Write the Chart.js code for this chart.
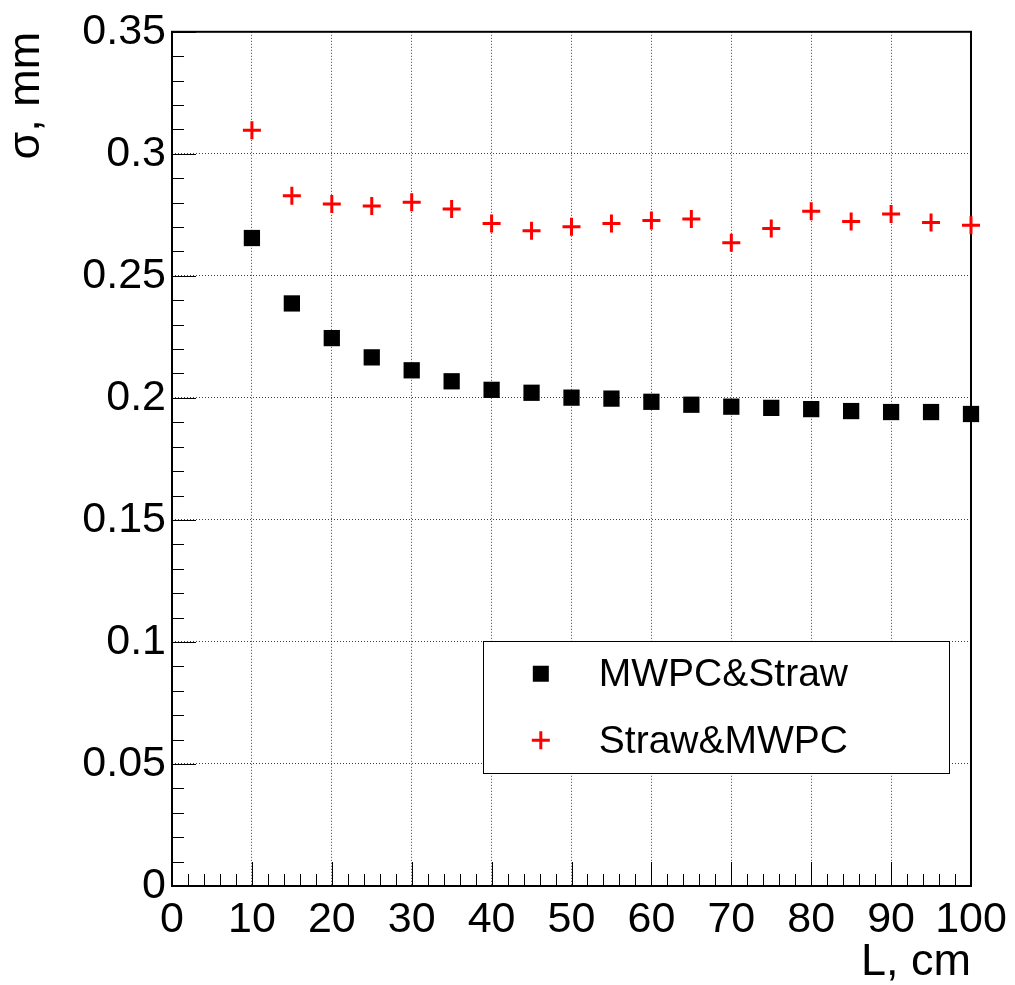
<!DOCTYPE html>
<html>
<head>
<meta charset="utf-8">
<script src="https://cdn.jsdelivr.net/npm/chart.js@4.4.1/dist/chart.umd.min.js"></script>
<style>
  html, body { margin: 0; padding: 0; background: #fff; }
  #c { display: block; }
</style>
</head>
<body>
<canvas id="c" width="1015" height="985"></canvas>
<script>
// ---- data ----
const lengthsCm = [10, 15, 20, 25, 30, 35, 40, 45, 50, 55, 60, 65, 70, 75, 80, 85, 90, 95, 100];
const mwpcStraw = [0.2655, 0.2387, 0.2245, 0.2166, 0.2113, 0.2068, 0.2033, 0.2021, 0.2001, 0.1997,
                   0.1984, 0.1972, 0.1964, 0.1959, 0.1954, 0.1946, 0.1942, 0.1942, 0.1934];
const strawMwpc = [0.3097, 0.2828, 0.2794, 0.2786, 0.2802, 0.2774, 0.2715, 0.2685, 0.2701, 0.2715,
                   0.2727, 0.2733, 0.2636, 0.2694, 0.2765, 0.2723, 0.2753, 0.2719, 0.2707];
const seriesLabels = ['MWPC&Straw', 'Straw&MWPC'];
const xTickLabels = ['0', '10', '20', '30', '40', '50', '60', '70', '80', '90', '100'];
const yTickLabels = ['0', '0.05', '0.1', '0.15', '0.2', '0.25', '0.3', '0.35'];
const xTitle = 'L, cm';
const yTitle = 'σ, mm';

const FONT = '"Liberation Sans", Arial, Helvetica, sans-serif';

function toPoints(xs, ys) { return xs.map((x, i) => ({ x: x, y: ys[i] })); }

// frame + inside tick marks (ROOT style)
const framePlugin = {
  id: 'frame',
  beforeDatasetsDraw(chart) {
    const ctx = chart.ctx, a = chart.chartArea;
    const xs = chart.scales.x, ys = chart.scales.y;
    ctx.save();
    ctx.strokeStyle = '#000';
    ctx.lineWidth = 1;
    // x ticks
    for (let v = xs.min; v <= xs.max + 1e-9; v += 2) {
      const px = Math.round(xs.getPixelForValue(v)) + 0.5;
      const major = Math.abs(v / 10 - Math.round(v / 10)) < 1e-6;
      const len = major ? 24 : 12;
      ctx.beginPath();
      ctx.moveTo(px, a.bottom);
      ctx.lineTo(px, a.bottom - len);
      ctx.stroke();
    }
    // y ticks
    for (let k = 0; k <= 35; k++) {
      const v = k * 0.01;
      const py = Math.round(ys.getPixelForValue(v)) + 0.5;
      const len = (k % 5 === 0) ? 24 : 12;
      ctx.beginPath();
      ctx.moveTo(a.left, py);
      ctx.lineTo(a.left + len, py);
      ctx.stroke();
    }
    ctx.lineWidth = 2;
    ctx.strokeRect(a.left, a.top, a.right - a.left, a.bottom - a.top);
    ctx.restore();
  }
};

// legend box inside the plot
const legendPlugin = {
  id: 'boxLegend',
  afterDatasetsDraw(chart) {
    const ctx = chart.ctx;
    const xs = chart.scales.x, ys = chart.scales.y;
    // legend placement (in axis units)
    const x0 = xs.getPixelForValue(38.9), x1 = xs.getPixelForValue(97.2);
    const y0 = ys.getPixelForValue(0.1002), y1 = ys.getPixelForValue(0.0462);
    ctx.save();
    ctx.fillStyle = '#fff';
    ctx.fillRect(x0, y0, x1 - x0, y1 - y0);
    ctx.strokeStyle = '#000';
    ctx.lineWidth = 1;
    ctx.strokeRect(Math.round(x0) + 0.5, Math.round(y0) + 0.5, Math.round(x1 - x0), Math.round(y1 - y0));
    const h = (y1 - y0);
    const rows = [y0 + h * 0.245, y0 + h * 0.75];
    const mx = x0 + 58;
    ctx.font = '39px ' + FONT;
    ctx.textBaseline = 'middle';
    ctx.textAlign = 'left';
    chart.data.datasets.forEach((ds, i) => {
      const cy = rows[i];
      if (ds.pointStyle === 'rect') {
        ctx.fillStyle = ds.backgroundColor;
        ctx.fillRect(mx - 8, cy - 8, 16, 16);
      } else {
        ctx.strokeStyle = ds.borderColor;
        ctx.lineWidth = 3;
        ctx.beginPath();
        ctx.moveTo(mx - 9, cy); ctx.lineTo(mx + 9, cy);
        ctx.moveTo(mx, cy - 9); ctx.lineTo(mx, cy + 9);
        ctx.stroke();
      }
      ctx.fillStyle = '#000';
      ctx.fillText(ds.label, x0 + 116, cy + 2);
    });
    ctx.restore();
  }
};

new Chart(document.getElementById('c'), {
  type: 'scatter',
  data: {
    datasets: [
      {
        label: seriesLabels[0],
        data: toPoints(lengthsCm, mwpcStraw),
        pointStyle: 'rect',
        pointRadius: 11.5,
        backgroundColor: '#000',
        borderColor: '#000',
        borderWidth: 0,
        showLine: false,
        clip: false
      },
      {
        label: seriesLabels[1],
        data: toPoints(lengthsCm, strawMwpc),
        pointStyle: 'cross',
        pointRadius: 9,
        backgroundColor: '#ff0000',
        borderColor: '#ff0000',
        borderWidth: 3,
        showLine: false,
        clip: false
      }
    ]
  },
  options: {
    responsive: false,
    animation: false,
    events: [],
    layout: { padding: { left: 0, right: 44, top: 30, bottom: 0 } },
    plugins: { legend: { display: false }, tooltip: { enabled: false } },
    scales: {
      x: {
        type: 'linear', min: 0, max: 100,
        ticks: {
          stepSize: 10, autoSkip: false, maxRotation: 0, minRotation: 0,
          color: '#000', padding: 8,
          font: { family: FONT, size: 43 },
          callback: (v, i) => xTickLabels[i]
        },
        grid: { color: 'rgba(0,0,0,0.75)', lineWidth: 1, drawTicks: false },
        border: { display: false, dash: [1, 2] },
        title: {
          display: true, text: xTitle, align: 'end', color: '#000',
          font: { family: FONT, size: 45, lineHeight: 1.0 }, padding: { top: 0, bottom: 0 }
        },
        afterFit(s) { s.height = 99; }
      },
      y: {
        type: 'linear', min: 0, max: 0.35,
        ticks: {
          stepSize: 0.05, autoSkip: false, color: '#000', padding: 6,
          font: { family: FONT, size: 43 },
          callback: (v, i) => yTickLabels[i]
        },
        grid: { color: 'rgba(0,0,0,0.75)', lineWidth: 1, drawTicks: false },
        border: { display: false, dash: [1, 2] },
        title: {
          display: true, text: yTitle, align: 'end', color: '#000',
          font: { family: FONT, size: 45, lineHeight: 1.2 }, padding: { top: 0, bottom: 0 }
        },
        afterFit(s) { s.width = 172; }
      }
    }
  },
  plugins: [framePlugin, legendPlugin]
});
</script>
</body>
</html>
